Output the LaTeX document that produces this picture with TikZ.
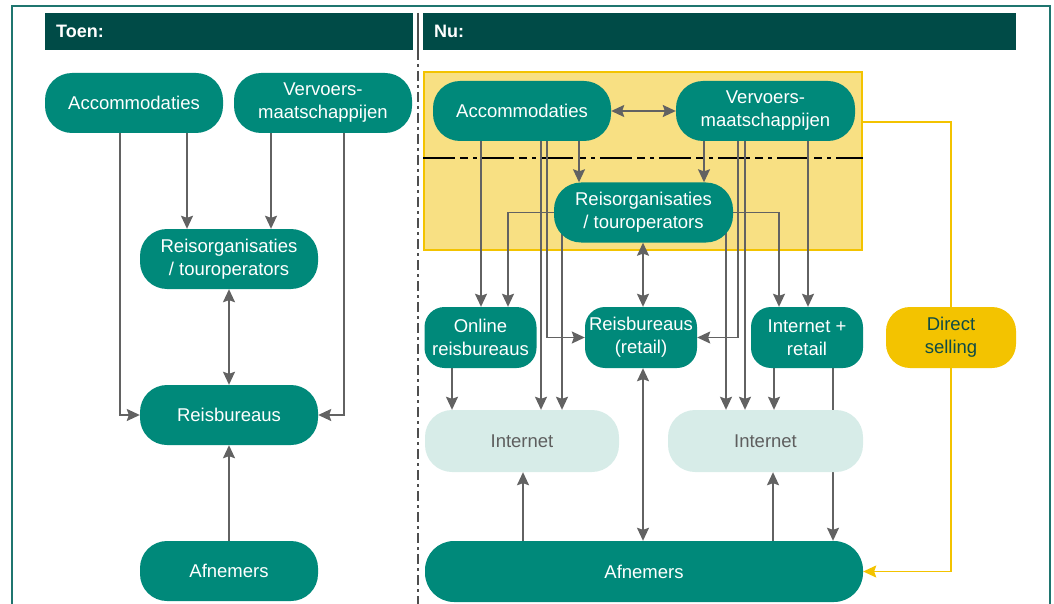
\documentclass[tikz,border=0pt]{standalone}
\usepackage{fontspec}
\setmainfont{Liberation Sans}
\usetikzlibrary{arrows.meta,calc}

\definecolor{tealbox}{HTML}{00897A}
\definecolor{hdrbar}{HTML}{004B47}
\definecolor{framecol}{HTML}{1F756F}
\definecolor{linecol}{HTML}{626262}
\definecolor{ylw}{HTML}{F3C300}
\definecolor{yfill}{HTML}{F8E083}
\definecolor{inetfill}{HTML}{D7ECE8}
\definecolor{inettext}{HTML}{5E5E5E}
\definecolor{dstext}{HTML}{0E4B46}

\pgfdeclarelayer{bg}
\pgfdeclarelayer{lines}
\pgfsetlayers{bg,lines,main}

\tikzset{
  tip/.tip={Stealth[length=13pt,width=12pt,inset=2pt]},
  txt/.style={font=\fontsize{18.5}{23}\selectfont, align=center, inner sep=0pt},
  pill/.style={txt, fill=tealbox, text=white, rounded corners=27pt, minimum height=60pt},
  smallpill/.style={txt, fill=tealbox, text=white, rounded corners=20pt, minimum height=61pt, minimum width=112pt},
  netpill/.style={txt, fill=inetfill, text=inettext, rounded corners=27pt, minimum height=62pt, minimum width=194pt},
  sellpill/.style={txt, fill=ylw, text=dstext, rounded corners=24pt, minimum height=61pt, minimum width=130pt},
  hdr/.style={fill=hdrbar, inner sep=0pt, minimum height=37pt},
  hdrtext/.style={text=white, font=\bfseries\fontsize{18}{20}\selectfont, inner sep=0pt, anchor=west},
  conn/.style={draw=linecol, line width=1.5pt},
  arr/.style={conn, -tip},
  darr/.style={conn, tip-tip},
  yarr/.style={draw=ylw, line width=1.5pt, -tip},
}

\begin{document}
\begin{tikzpicture}[x=1pt,y=-1pt]
\useasboundingbox (0,0) rectangle (1054,604);

% outer frame and column divider
\draw[framecol, line width=1.5pt] (12,604) -- (12,6) -- (1050,6) -- (1050,604);
\draw[linecol!80!black, line width=1.4pt] (418,13) -- (418,50);
\draw[linecol!80!black, line width=1.4pt, dash pattern=on 10pt off 4pt on 3pt off 4pt] (418,50) -- (418,604);

% headers
\node[hdr, minimum width=368pt] (hl) at (229,31.5) {};
\node[hdr, minimum width=593pt] (hr) at (719.5,31.5) {};
\node[hdrtext] (tl) at (56,31.5) {Toen:};
\node[hdrtext] (tr) at (434,31.5) {Nu:};

% ---------- left column ----------
\node[pill, minimum width=178pt] (accL)  at (134,103) {Accommodaties};
\node[pill, minimum width=178pt] (vervL) at (323,103) {Vervoers-\\maatschappijen};
\node[pill, minimum width=178pt] (reisL) at (229,259) {Reisorganisaties\\/ touroperators};
\node[pill, minimum width=178pt] (rbL)   at (229,415) {Reisbureaus};
\node[pill, minimum width=178pt] (afnL)  at (229,571) {Afnemers};

\begin{pgfonlayer}{lines}
\draw[arr] (accL.south -| 120,0) |- (rbL.west);
\draw[arr] (accL.south -| 187,0) -- (reisL.north -| 187,0);
\draw[arr] (vervL.south -| 271,0) -- (reisL.north -| 271,0);
\draw[arr] (vervL.south -| 344,0) |- (rbL.east);
\draw[darr] (reisL.south) -- (rbL.north);
\draw[arr] (afnL.north) -- (rbL.south);
\end{pgfonlayer}

% ---------- right column ----------
\begin{pgfonlayer}{bg}
\node[fill=yfill, draw=ylw, line width=1.5pt, minimum width=438pt, minimum height=178pt, inner sep=0pt] (ybox) at (643,161) {};
\draw[black, line width=1.2pt, dash pattern=on 32pt off 5pt on 8pt off 5pt on 4pt off 5pt] (ybox.west |- 0,158) -- (ybox.east |- 0,158);
\end{pgfonlayer}

\node[pill, minimum width=178pt] (accR)  at (522,111) {Accommodaties};
\node[pill, minimum width=179pt] (vervR) at (765.5,111) {Vervoers-\\maatschappijen};
\node[pill, minimum width=179pt] (reisR) at (643.5,212.5) {Reisorganisaties\\/ touroperators};

\node[smallpill] (online) at (480.5,337.5) {Online\\reisbureaus};
\node[smallpill] (retail) at (641,337.5) {Reisbureaus\\(retail)};
\node[smallpill] (inretail) at (807,337.5) {Internet +\\retail};
\node[sellpill] (direct) at (951,337.5) {Direct\\selling};

\node[netpill] (net1) at (522,441) {Internet};
\node[netpill, minimum width=195pt] (net2) at (765.5,441) {Internet};

\node[pill, minimum width=438pt, minimum height=61pt, rounded corners=29pt] (afnR) at (644,571.5) {Afnemers};

\begin{pgfonlayer}{lines}
% suppliers
\draw[darr] (accR.east) -- (vervR.west);
\draw[arr] (accR.south -| 579,0) -- (reisR.north -| 579,0);
\draw[arr] (vervR.south -| 704,0) -- (reisR.north -| 704,0);
\draw[arr] (accR.south -| 481,0) -- (online.north -| 481,0);
\draw[arr] (accR.south -| 541,0) -- (net1.north -| 541,0);
\draw[arr] (accR.south -| 547,0) |- (retail.west);
\draw[arr] (vervR.south -| 738,0) |- (retail.east);
\draw[arr] (vervR.south -| 745,0) -- (net2.north -| 745,0);
\draw[arr] (vervR.south -| 808,0) -- (inretail.north -| 808,0);
% tour operators
\draw[arr] (reisR.west) -| (508,0 |- online.north);
\draw[arr] (reisR.east) -| (779,0 |- inretail.north);
\draw[arr] (reisR.center -| 562,0) -- (net1.north -| 562,0);
\draw[arr] (reisR.center -| 726,0) -- (net2.north -| 726,0);
\draw[darr] (reisR.south -| 643,0) -- (retail.north -| 643,0);
% intermediaries
\draw[arr] (online.south -| 452,0) -- (net1.north -| 452,0);
\draw[arr] (inretail.south -| 774,0) -- (net2.north -| 774,0);
\draw[arr] (inretail.south -| 833,0) -- (afnR.north -| 833,0);
\draw[darr] (retail.south -| 643,0) -- (afnR.north -| 643,0);
% customers
\draw[arr] (afnR.north -| 523,0) -- (net1.south -| 523,0);
\draw[arr] (afnR.north -| 773,0) -- (net2.south -| 773,0);
% direct selling
\draw[ylw, line width=1.5pt] (ybox.east |- 0,122) -| (direct.north);
\draw[yarr] (direct.south) |- (afnR.east);
\end{pgfonlayer}

\end{tikzpicture}
\end{document}
